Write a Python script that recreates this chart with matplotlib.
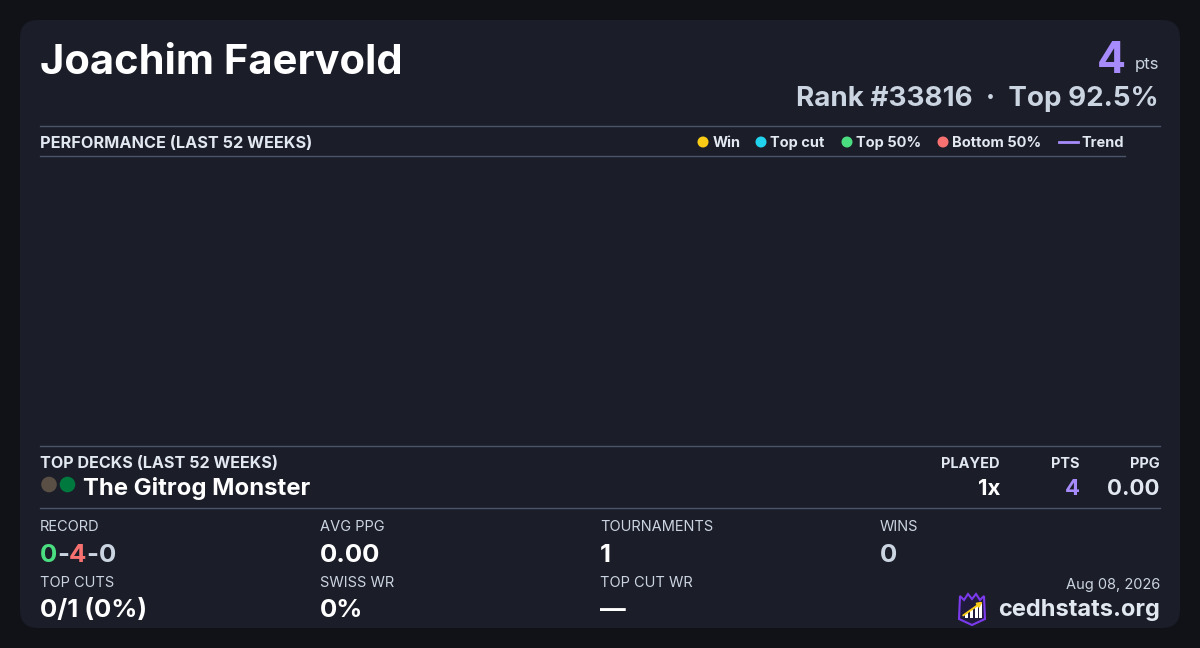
import matplotlib
matplotlib.use("Agg")
import matplotlib.pyplot as plt
from matplotlib.patches import FancyBboxPatch, Circle, Polygon, Rectangle

plt.rcParams['font.family'] = ['Inter', 'DejaVu Sans']

# ---- data ----
player = "Joachim Faervold"
points = 4
rank = 33816
top_pct = 92.5

legend_labels = ["Win", "Top cut", "Top 50%", "Bottom 50%"]
legend_colors = ["#facc15", "#22d3ee", "#4ade80", "#f87171"]
trend_label = "Trend"

deck_name = "The Gitrog Monster"
deck_colors = ["#5a4f44", "#00793f"]
deck_cols = ["PLAYED", "PTS", "PPG"]
deck_vals = ["1x", "4", "0.00"]

record = [0, 4, 0]
stat_labels_1 = ["RECORD", "AVG PPG", "TOURNAMENTS", "WINS"]
stat_values_1 = [None, "0.00", "1", "0"]
stat_labels_2 = ["TOP CUTS", "SWISS WR", "TOP CUT WR"]
stat_values_2 = ["0/1 (0%)", "0%", "\u2014"]
date_str = "Aug 08, 2026"
site = "cedhstats.org"

# ---- colours ----
OUTER = "#111217"
CARD = "#1b1d29"
RULE = "#4a5568"
WHITE = "#ffffff"
LIGHT = "#e2e8f0"
MUTED = "#cbd5e1"
PURPLE = "#a78bfa"

W, H = 1200, 648
fig = plt.figure(figsize=(W / 100, H / 100), dpi=100, facecolor=OUTER)
ax = fig.add_axes([0, 0, 1, 1])
ax.set_xlim(0, W)
ax.set_ylim(H, 0)
ax.axis('off')

ax.add_patch(FancyBboxPatch((20, 20), 1160, 608, boxstyle="round,pad=0,rounding_size=18",
                            fc=CARD, ec="none"))

# header
ax.text(40, 74, player, fontsize=30, fontweight='bold', color=WHITE, va='baseline')
ax.text(1159, 69, "pts", fontsize=12, color=MUTED, ha='right', va='baseline')
ax.text(1126, 73, str(points), fontsize=31, fontweight='bold', color=PURPLE, ha='right', va='baseline')
ax.text(1159, 106, f"Rank #{rank}  \u00b7  Top {top_pct}%", fontsize=20, fontweight='bold',
        color=MUTED, ha='right', va='baseline')

# performance header + legend
ax.plot([40, 1160], [126, 126], color=RULE, lw=1)
ax.plot([40, 1125], [156, 156], color=RULE, lw=1)
ax.text(40, 147.5, "PERFORMANCE (LAST 52 WEEKS)", fontsize=11.7, fontweight='bold', color=LIGHT, va='baseline')

leg_dot_x = [703, 761, 847, 943]
for x, lab, c in zip(leg_dot_x, legend_labels, legend_colors):
    ax.add_patch(Circle((x, 142), 5.5, fc=c, ec='none'))
    ax.text(x + 9.5, 147, lab, fontsize=10.5, fontweight='bold', color=LIGHT, va='baseline')
ax.plot([1059, 1078], [142, 142], color=PURPLE, lw=2)
ax.text(1081, 147, trend_label, fontsize=10.5, fontweight='bold', color=LIGHT, va='baseline')

# top decks
ax.plot([40, 1160], [446, 446], color=RULE, lw=1)
ax.text(40, 468, "TOP DECKS (LAST 52 WEEKS)", fontsize=11.6, fontweight='bold', color=LIGHT, va='baseline')
for i, c in enumerate(deck_colors):
    ax.add_patch(Circle((49 + 18.5 * i, 484.5), 7.8, fc=c, ec='none'))
ax.text(83, 495, deck_name, fontsize=17.2, fontweight='bold', color=WHITE, va='baseline')

col_right = [1000, 1080, 1160]
val_colors = [WHITE, PURPLE, LIGHT]
for x, lab, v, c in zip(col_right, deck_cols, deck_vals, val_colors):
    ax.text(x, 468, lab, fontsize=10.5, fontweight='bold', color=LIGHT, ha='right', va='baseline')
    ax.text(x, 495, v, fontsize=16, fontweight='bold', color=c, ha='right', va='baseline')

ax.plot([40, 1160], [508, 508], color=RULE, lw=1)

# stats grid
col_x = [40, 320, 600, 880]
for x, lab in zip(col_x, stat_labels_1):
    ax.text(x, 531, lab, fontsize=10.5, color=MUTED, va='baseline')
for x, v, c in zip(col_x[1:], stat_values_1[1:], [WHITE, WHITE, MUTED]):
    ax.text(x, 562, v, fontsize=18.5, fontweight='bold', color=c, va='baseline')

# record drawn piecewise so each number gets its colour
renderer = fig.canvas.get_renderer()
pieces = [(str(record[0]), "#4ade80"), ("-", MUTED), (str(record[1]), "#f87171"),
          ("-", MUTED), (str(record[2]), MUTED)]
x = 40
for s, c in pieces:
    t = ax.text(x, 562, s, fontsize=18.5, fontweight='bold', color=c, va='baseline')
    x += t.get_window_extent(renderer).width

for x, lab in zip(col_x, stat_labels_2):
    ax.text(x, 587, lab, fontsize=10.5, color=MUTED, va='baseline')
for x, v in zip(col_x, stat_values_2):
    ax.text(x, 617, v, fontsize=18.5, fontweight='bold', color=WHITE, va='baseline')

# footer
ax.text(1160, 589, date_str, fontsize=10.5, color=MUTED, ha='right', va='baseline')
ax.text(1160, 616, site, fontsize=17, fontweight='bold', color=LIGHT, ha='right', va='baseline')

# small logo: shield with bars and rising arrow
shield = [(960, 596), (964, 600), (968, 594), (972, 599), (976, 594), (980, 600), (984, 596),
          (985, 619), (972, 625), (959, 619)]
ax.add_patch(Polygon(shield, closed=True, fc="#201b3c", ec="#7c3aed", lw=1.5))
for bx, bh in zip([965, 970, 975, 979], [5, 8, 12, 15]):
    ax.add_patch(Rectangle((bx, 618 - bh), 2.8, bh, fc=WHITE, ec='none'))
ax.annotate("", xy=(985, 600), xytext=(961, 617),
            arrowprops=dict(arrowstyle="-|>", color="#facc15", lw=1.4, mutation_scale=7))

fig.savefig("out.png", dpi=100, facecolor=OUTER)
